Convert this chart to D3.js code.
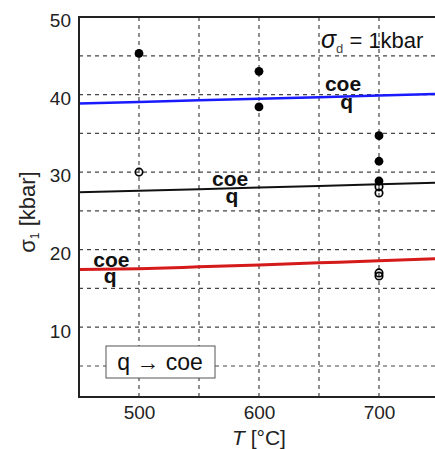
<!DOCTYPE html>
<html>
<head>
<meta charset="utf-8">
<script src="https://cdn.jsdelivr.net/npm/d3@7"></script>
<style>
  body { margin: 0; background: #fff; }
  svg { display: block; font-family: "Liberation Sans", Arial, sans-serif; }
</style>
</head>
<body>
<div id="viz"></div>
<script>
// temperature grid of the boundary curves
const curveT = [450, 500, 550, 600, 650, 700, 750];
// q -> coe boundaries for three conditions
const blueCurve = [38.85, 39.05, 39.25, 39.45, 39.65, 39.88, 40.1];
const blackCurve = [27.4, 27.6, 27.8, 28.0, 28.2, 28.42, 28.65];
const redCurve = [17.45, 17.55, 17.78, 18.03, 18.3, 18.57, 18.85];

// experiments: filled = coe, open = q
const filledT = [500, 600, 600, 700, 700, 700];
const filledS = [45.3, 43.0, 38.4, 34.7, 31.4, 28.85];
const openT = [500, 700, 700, 700, 700];
const openS = [30.0, 28.1, 27.3, 17.0, 16.6];

const xTicks = [500, 600, 700];
const yTicks = [10, 20, 30, 40, 50];
const xGrid = [500, 550, 600, 650, 700];
const yGrid = [5, 10, 15, 20, 25, 30, 35, 40, 45];

function buildChart(containerId) {
    const width = 435;
    const height = 449;

    const margin = { top: 17, bottom: 52, left: 79, right: -4 };
    const innerWidth = width - margin.left - margin.right;
    const innerHeight = height - margin.top - margin.bottom;

    const svg = d3.select(containerId)
        .append('svg')
        .attr('width', width)
        .attr('height', height);

    const g = svg.append('g')
        .attr('transform', `translate(${margin.left},${margin.top})`);

    const x = d3.scaleLinear().domain([450, 750]).range([0, innerWidth]);
    const y = d3.scaleLinear().domain([1, 50]).range([innerHeight, 0]);

    // dashed grid
    g.selectAll('.vgrid')
        .data(xGrid)
        .enter()
        .append('line')
        .attr('x1', d => x(d)).attr('x2', d => x(d))
        .attr('y1', 0).attr('y2', innerHeight)
        .attr('stroke', '#444')
        .attr('stroke-width', 1.2)
        .attr('stroke-dasharray', '4,4');

    g.selectAll('.hgrid')
        .data(yGrid)
        .enter()
        .append('line')
        .attr('x1', 0).attr('x2', innerWidth)
        .attr('y1', d => y(d)).attr('y2', d => y(d))
        .attr('stroke', '#444')
        .attr('stroke-width', 1.2)
        .attr('stroke-dasharray', '4,4');

    // legend box
    const box = g.append('g');
    box.append('rect')
        .attr('x', 106 - margin.left).attr('y', 346 - margin.top)
        .attr('width', 109).attr('height', 32)
        .attr('fill', '#fff')
        .attr('stroke', '#555')
        .attr('stroke-width', 1);
    box.append('text')
        .attr('x', 160 - margin.left).attr('y', 370 - margin.top)
        .attr('text-anchor', 'middle')
        .attr('font-size', 23)
        .attr('fill', '#111')
        .text('q \u2192 coe');

    // boundary curves
    const line = d3.line()
        .x((d, i) => x(curveT[i]))
        .y(d => y(d))
        .curve(d3.curveMonotoneX);

    const curves = [
        { values: blueCurve, color: '#1a1aff', w: 2.5 },
        { values: blackCurve, color: '#111', w: 2 },
        { values: redCurve, color: '#d41a1a', w: 3 }
    ];

    g.selectAll('.curve')
        .data(curves)
        .enter()
        .append('path')
        .attr('fill', 'none')
        .attr('stroke', d => d.color)
        .attr('stroke-width', d => d.w)
        .attr('d', d => line(d.values));

    // coe / q labels
    const labels = [
        { t: 670, v: 40.5, s: 'coe' }, { t: 673, v: 38.15, s: 'q' },
        { t: 576, v: 28.2, s: 'coe' }, { t: 577.5, v: 26.0, s: 'q' },
        { t: 477, v: 17.8, s: 'coe' }, { t: 476, v: 15.7, s: 'q' }
    ];
    g.selectAll('.lab')
        .data(labels)
        .enter()
        .append('text')
        .attr('x', d => x(d.t))
        .attr('y', d => y(d.v))
        .attr('text-anchor', 'middle')
        .attr('font-size', 21)
        .attr('font-weight', 'bold')
        .attr('fill', '#111')
        .text(d => d.s);

    // data points
    g.selectAll('.filled')
        .data(filledT)
        .enter()
        .append('circle')
        .attr('cx', d => x(d))
        .attr('cy', (d, i) => y(filledS[i]))
        .attr('r', 4.4)
        .attr('fill', '#000');

    g.selectAll('.open')
        .data(openT)
        .enter()
        .append('circle')
        .attr('cx', d => x(d))
        .attr('cy', (d, i) => y(openS[i]))
        .attr('r', 3.7)
        .attr('fill', 'none')
        .attr('stroke', '#000')
        .attr('stroke-width', 1.7);

    // axes
    const xAxis = d3.axisBottom(x).tickValues(xTicks).tickSize(0).tickPadding(9);
    const yAxis = d3.axisLeft(y).tickValues(yTicks).tickSize(0).tickPadding(8);

    const xg = g.append('g')
        .attr('transform', `translate(0,${innerHeight})`)
        .call(xAxis);
    const yg = g.append('g').call(yAxis);

    [xg, yg].forEach(a => {
        a.select('.domain').remove();
        a.selectAll('text')
            .attr('font-size', 19)
            .attr('font-family', '"Liberation Sans", Arial, sans-serif')
            .attr('fill', '#222');
    });
    yg.selectAll('text').attr('dy', '0.52em');

    // frame: left, bottom, top
    g.append('path')
        .attr('d', `M${innerWidth},0H0V${innerHeight}H${innerWidth}`)
        .attr('fill', 'none')
        .attr('stroke', '#222')
        .attr('stroke-width', 2);

    // annotation
    const ann = svg.append('text')
        .attr('x', 321).attr('y', 48)
        .attr('font-size', 22)
        .attr('fill', '#111');
    ann.append('tspan').attr('font-style', 'italic').attr('font-size', 25).text('\u03c3');
    ann.append('tspan').attr('font-size', 13).attr('dy', 5).attr('fill', '#444').text('d');
    ann.append('tspan').attr('dy', -5).text(' = 1kbar');

    // axis titles
    const xt = svg.append('text')
        .attr('x', 259).attr('y', 445)
        .attr('text-anchor', 'middle')
        .attr('font-size', 21)
        .attr('fill', '#222');
    xt.append('tspan').attr('font-style', 'italic').text('T');
    xt.append('tspan').text(' [\u00b0C]');

    const yt = svg.append('text')
        .attr('transform', 'translate(35,212) rotate(-90)')
        .attr('text-anchor', 'middle')
        .attr('font-size', 22)
        .attr('fill', '#222');
    yt.append('tspan').text('\u03c3');
    yt.append('tspan').attr('font-size', 12).attr('dy', 4).text('1');
    yt.append('tspan').attr('dy', -4).text(' [kbar]');
}

buildChart('#viz');
</script>
</body>
</html>
